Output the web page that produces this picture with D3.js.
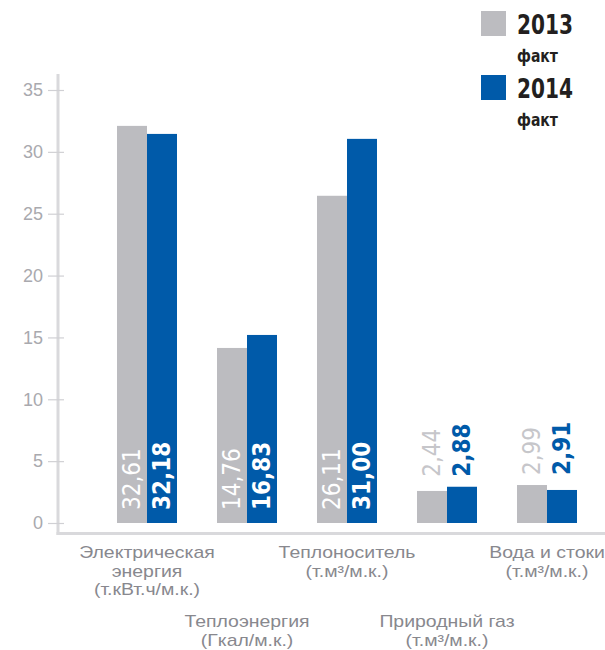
<!DOCTYPE html>
<html><head><meta charset="utf-8">
<script src="https://cdn.jsdelivr.net/npm/d3@7/dist/d3.min.js"></script>
<style>
html,body{margin:0;padding:0;background:#fff;}
svg{display:block;}
.cond{font-family:"Liberation Sans Narrow","DejaVu Sans Condensed","Roboto Condensed","Arial Narrow",sans-serif;font-stretch:condensed;}
</style></head>
<body>
<svg id="chart" width="605" height="650"></svg>
<script>
// ---- data ----
const categories = ["elec", "heat", "carrier", "gas", "water"];
const categoryLabels = [
  ["Электрическая", "энергия", "(т.кВт.ч/м.к.)"],
  ["Теплоэнергия", "(Гкал/м.к.)"],
  ["Теплоноситель", "(т.м³/м.к.)"],
  ["Природный газ", "(т.м³/м.к.)"],
  ["Вода и стоки", "(т.м³/м.к.)"]
];
const labelRow = [0, 1, 0, 1, 0];
const seriesNames = ["2013", "2014"];
const values2013 = [32.1, 14.15, 26.45, 2.59, 3.07];
const values2014 = [31.45, 15.2, 31.05, 2.93, 2.67];
const valueLabels2013 = ["32,61", "14,76", "26,11", "2,44", "2,99"];
const valueLabels2014 = ["32,18", "16,83", "31,00", "2,88", "2,91"];
const yTicks = [0, 5, 10, 15, 20, 25, 30, 35];
const colors = ["#bcbcc0", "#005aa9"];

const svg = d3.select("#chart");

const x = d3.scaleBand().domain(categories).range([97, 597]).paddingInner(0.4).paddingOuter(0.2);
const xs = d3.scaleBand().domain(seriesNames).range([0, x.bandwidth()]);
const y = d3.scaleLinear().domain([0, 35]).range([523, 90]);

const axisX = 58;
// axes lines
svg.append("line").attr("x1", axisX).attr("x2", axisX).attr("y1", 74).attr("y2", 535)
  .attr("stroke", "#d9d9dc").attr("stroke-width", 3);
svg.append("line").attr("x1", axisX - 1.5).attr("x2", 605).attr("y1", 533.5).attr("y2", 533.5)
  .attr("stroke", "#d9d9dc").attr("stroke-width", 3);

const yAxis = svg.append("g").attr("transform", `translate(${axisX},0)`)
  .call(d3.axisLeft(y).tickValues(yTicks).tickSize(10).tickPadding(5).tickFormat(d3.format("d")));
yAxis.select(".domain").remove();
yAxis.selectAll(".tick line").attr("x1", -10).attr("x2", 6).attr("stroke", "#d0d0d4").attr("stroke-width", 1.2);
yAxis.selectAll(".tick text").attr("fill", "#a9a9ae").attr("font-family", "Arial, 'Liberation Sans', sans-serif")
  .attr("font-size", 18);

// bars
const rows = categories.map((c, i) => ({c, i, vals: [values2013[i], values2014[i]], labels: [valueLabels2013[i], valueLabels2014[i]]}));
const groups = svg.append("g").selectAll("g").data(rows).join("g")
  .attr("transform", d => `translate(${x(d.c)},0)`);

groups.selectAll("rect").data(d => d.vals.map((v, k) => ({v, k}))).join("rect")
  .attr("x", d => xs(seriesNames[d.k]))
  .attr("width", xs.bandwidth())
  .attr("y", d => y(d.v))
  .attr("height", d => y(0) - y(d.v))
  .attr("fill", d => colors[d.k]);

// value labels
groups.each(function(d) {
  const g = d3.select(this);
  const maxV = d3.max(d.vals);
  const inside = d3.min(d.vals) > 8;
  d.labels.forEach((lab, k) => {
    const cx = xs(seriesNames[k]) + xs.bandwidth() / 2;
    const yy = inside ? y(0) - 13 : y(maxV) - 10;
    let fill;
    if (inside) fill = "#ffffff";
    else fill = k === 0 ? "#c6c6ca" : "#005aa9";
    g.append("text").attr("class", "cond")
      .attr("transform", `translate(${cx + 8},${yy}) rotate(-90)`)
      .attr("text-anchor", "start")
      .attr("font-size", 24)
      .attr("font-weight", k === 0 ? "normal" : "bold")
      .attr("fill", fill)
      .text(lab);
  });
});

// category labels (one text per line, slightly widened to match the reference)
const rowBase = [558, 627];
const lineGap = 18.6;
rows.forEach(d => {
  const cx = x(d.c) + x.bandwidth() / 2;
  categoryLabels[d.i].forEach((line, j) => {
    svg.append("text").attr("text-anchor", "middle")
      .attr("transform", `translate(${cx},${rowBase[labelRow[d.i]] + j * lineGap}) scale(1.2,1)`)
      .attr("font-family", "Arial, 'Liberation Sans', sans-serif").attr("font-size", 16.2)
      .attr("fill", "#88888e")
      .text(line);
  });
});

// legend
seriesNames.forEach((s, k) => {
  const top = 11 + k * 64;
  svg.append("rect").attr("x", 481).attr("y", top).attr("width", 25).attr("height", 25).attr("fill", colors[k]);
  svg.append("text").attr("class", "cond").attr("x", 517).attr("y", top + 23)
    .attr("font-size", 27).attr("font-weight", "bold").attr("fill", "#231f20")
    .attr("textLength", 56).attr("lengthAdjust", "spacingAndGlyphs").text(s);
  svg.append("text").attr("class", "cond").attr("x", 517).attr("y", top + 51)
    .attr("font-size", 18).attr("font-weight", "bold").attr("fill", "#231f20")
    .attr("textLength", 41).attr("lengthAdjust", "spacingAndGlyphs").text("факт");
});
</script>
</body></html>
